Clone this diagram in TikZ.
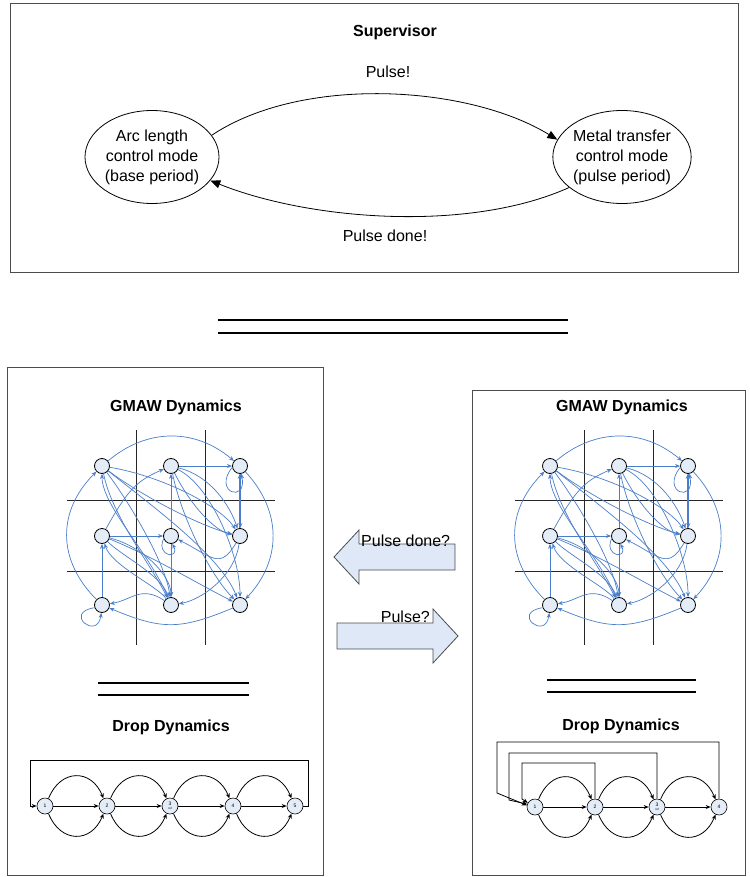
\documentclass[tikz,border=0pt]{standalone}
\usepackage{fontspec}
\setmainfont{Liberation Sans}
\usetikzlibrary{arrows.meta,shapes.geometric}
\definecolor{gblue}{RGB}{74,126,200}
\definecolor{nfill}{RGB}{228,236,247}
\definecolor{afill}{RGB}{222,232,246}

\newcommand{\gmawgraph}[2]{%
\begin{scope}[xshift=#1]
  % grid
  \draw[gridline] (136,430) -- (136,645);
  \draw[gridline] (205,430) -- (205,645);
  \draw[gridline] (67,500) -- (275,500);
  \draw[gridline] (67,571) -- (275,571);
  % nodes
  \node[gnode] (#2a) at (102,466) {};
  \node[gnode] (#2b) at (171,466) {};
  \node[gnode] (#2c) at (240,466) {};
  \node[gnode] (#2d) at (102,536) {};
  \node[gnode] (#2e) at (171,536) {};
  \node[gnode] (#2f) at (240,536) {};
  \node[gnode] (#2g) at (102,605) {};
  \node[gnode] (#2h) at (171,605) {};
  \node[gnode] (#2i) at (240,605) {};
  % outer cycle
  \draw[gedge] (#2g) .. controls +(-45,-45) and +(-45,45) .. (#2a);
  \draw[gedge] (#2a) .. controls +(45,-38) and +(-45,-38) .. (#2c);
  \draw[gedge] (#2c) .. controls +(42,45) and +(42,-45) .. (#2i);
  \draw[gedge] (#2i) .. controls +(-60,25) and +(60,25) .. (#2g);
  % loops
  \draw[gedge] (#2g.200) .. controls +(-32,5) and +(-4,28) .. (#2g.265);
  \draw[gedge] (#2c.190) .. controls +(-20,25) and +(6,30) .. (#2c.280);
  \draw[gedge] (#2e.200) .. controls +(-8,18) and +(8,16) .. (#2e.280);
  % straight
  \draw[gedge] (#2b) -- (#2c);
  \draw[gedge] (#2d) -- (#2e);
  \draw[gedge] (#2g) -- (#2d);
  \draw[gedge] (#2e) -- (#2b);
  \draw[gedge] (#2e) -- (#2h);
  \draw[gedge] (#2c.272) -- (#2f.88);
  \draw[gedge] (#2f.92) -- (#2c.268);
  % curves
  \draw[gedge] (#2d) .. controls +(25,-45) and +(-35,15) .. (#2b);
  \draw[gedge] (#2a) .. controls +(60,10) and +(-20,-30) .. (#2f);
  \draw[gedge] (#2a) .. controls +(40,30) and +(-40,-10) .. (#2f);
  \draw[gedge] (#2a) .. controls +(50,40) and +(-20,-50) .. (#2i);
  \draw[gedge] (#2a) .. controls +(10,50) and +(-20,-40) .. (#2h);
  \draw[gedge] (#2a) .. controls +(30,40) and +(-5,-40) .. (#2h);
  \draw[gedge] (#2h) .. controls +(-20,-50) and +(0,40) .. (#2a);
  \draw[gedge] (#2b) .. controls +(20,40) and +(-25,-5) .. (#2f);
  \draw[gedge] (#2b) .. controls +(40,10) and +(-10,-30) .. (#2f);
  \draw[gedge] (#2b) .. controls +(10,50) and +(-30,-30) .. (#2i);
  \draw[gedge] (#2b) .. controls +(40,20) and +(0,-50) .. (#2i);
  \draw[gedge] (#2d) .. controls +(20,20) and +(-10,-30) .. (#2h);
  \draw[gedge] (#2d) .. controls +(40,10) and +(0,-30) .. (#2h);
  \draw[gedge] (#2h) .. controls +(-15,-20) and +(10,30) .. (#2d);
  \draw[gedge] (#2d) .. controls +(50,20) and +(-40,-20) .. (#2i);
  \draw[gedge] (#2f) .. controls +(-20,35) and +(40,20) .. (#2e);
  \draw[gedge] (#2f) .. controls +(-5,40) and +(30,-5) .. (#2h);
  \draw[gedge] (#2h) .. controls +(-30,-20) and +(30,-5) .. (#2g);
\end{scope}}

\begin{document}
\begin{tikzpicture}[x=1pt,y=-1pt,
  frame/.style={draw=black!70, line width=0.8pt},
  title/.style={font=\fontsize{16}{19}\selectfont\bfseries},
  lbl/.style={font=\fontsize{16}{19}\selectfont},
  state/.style={ellipse, draw, line width=0.8pt, minimum width=134pt, minimum height=93pt,
    align=center, inner sep=0pt, font=\fontsize{16}{20}\selectfont},
  gnode/.style={circle, draw, fill=nfill, line width=0.8pt, minimum size=15pt, inner sep=0pt},
  gedge/.style={draw=gblue, line width=0.7pt, -{Stealth[length=5pt,width=4pt]}},
  gridline/.style={draw=black!85, line width=1pt},
  dnode/.style={circle, draw, fill=nfill, line width=0.6pt, minimum size=16pt, inner sep=0pt,
    align=center, font=\fontsize{5}{5}\selectfont},
  dedge/.style={draw=black, line width=0.8pt, -{Stealth[length=5pt,width=4pt]}},
  sarrow/.style={draw=black, line width=0.8pt, -{Triangle[length=10pt,width=8pt]}},
  barrow/.style={draw=black!70, fill=afill, line width=0.8pt},
  dline/.style={draw=black, line width=1.1pt}
]
\useasboundingbox (0,0) rectangle (749,877);

% ---------- Supervisor ----------
\draw[frame] (10,3) rectangle (738,272);
\node[title] (sup) at (395,32) {Supervisor};
\node[state] (sl) at (152,157) {Arc length\\control mode\\(base period)};
\node[state] (sr) at (622,157) {Metal transfer\\control mode\\(pulse period)};
\draw[sarrow] (sl.20) .. controls +(90,-60) and +(-90,-55) .. (sr.165);
\draw[sarrow] (sr.-150) .. controls +(-100,45) and +(100,40) .. (sl.-22);
\node[lbl] (lp) at (388,72) {Pulse!};
\node[lbl] (lpd) at (385,236) {Pulse done!};

% double line
\draw[dline] (218,320) -- (568,320);
\draw[dline] (218,333) -- (568,333);

% ---------- left box ----------
\draw[frame] (7,367) rectangle (323,875);
\node[title] (gl) at (176,407) {GMAW Dynamics};
\gmawgraph{0pt}{L}
\draw[dline] (98,683) -- (249,683);
\draw[dline] (98,695) -- (249,695);
\node[title] (dl) at (171,727) {Drop Dynamics};

\node[dnode] (l1) at (45,806) {1};
\node[dnode] (l2) at (107,806) {2};
\node[dnode] (l3) at (170,806) {3\\[-1pt]{\fontsize{3}{3}\selectfont ref}};
\node[dnode] (l4) at (233,806) {4};
\node[dnode] (l5) at (295,806) {5};
\foreach \a/\b in {l1/l2,l2/l3,l3/l4,l4/l5}{
  \draw[dedge] (\a) -- (\b);
  \draw[dedge] (\a.65) .. controls +(12,-30) and +(-12,-30) .. (\b.115);
  \draw[dedge] (\a.-65) .. controls +(12,30) and +(-12,30) .. (\b.-115);
}
\draw[dedge] (l5.east) -- ++(5,0) |- (30,760) |- (l1.west);

% ---------- block arrows ----------
\draw[barrow] (455,544) -- (359,544) -- (359,530) -- (334,557) -- (359,584) -- (359,570) -- (455,570) -- cycle;
\node[lbl, anchor=base west, inner sep=0pt] (tpd) at (361,546) {Pulse done?};
\draw[barrow] (337,623) -- (433,623) -- (433,609) -- (458,636) -- (433,663) -- (433,649) -- (337,649) -- cycle;
\node[lbl, anchor=base east, inner sep=0pt] (tp) at (430,622) {Pulse?};

% ---------- right box ----------
\draw[frame] (472,390) rectangle (745,875);
\node[title] (gr) at (622,407) {GMAW Dynamics};
\gmawgraph{448pt}{R}
\draw[dline] (547,680) -- (696,680);
\draw[dline] (547,692) -- (696,692);
\node[title] (dr) at (621,726) {Drop Dynamics};

\node[dnode] (r1) at (535,807) {1};
\node[dnode] (r2) at (595,807) {2};
\node[dnode] (r3) at (657,807) {3\\[-1pt]{\fontsize{3}{3}\selectfont ref}};
\node[dnode] (r4) at (719,807) {4};
\foreach \a/\b in {r1/r2,r2/r3,r3/r4}{
  \draw[dedge] (\a) -- (\b);
  \draw[dedge] (\a.65) .. controls +(12,-30) and +(-12,-30) .. (\b.115);
  \draw[dedge] (\a.-65) .. controls +(12,30) and +(-12,30) .. (\b.-115);
}
\draw[dedge] (r2.north) |- (522,763) -- (522,799) -- (r1.150);
\draw[dedge] (r3.north) |- (509,753) -- (509,800) -- (r1.160);
\draw[dedge] (r4.north) |- (497,742) -- (497,793) -- (r1.168);
\end{tikzpicture}
\end{document}
